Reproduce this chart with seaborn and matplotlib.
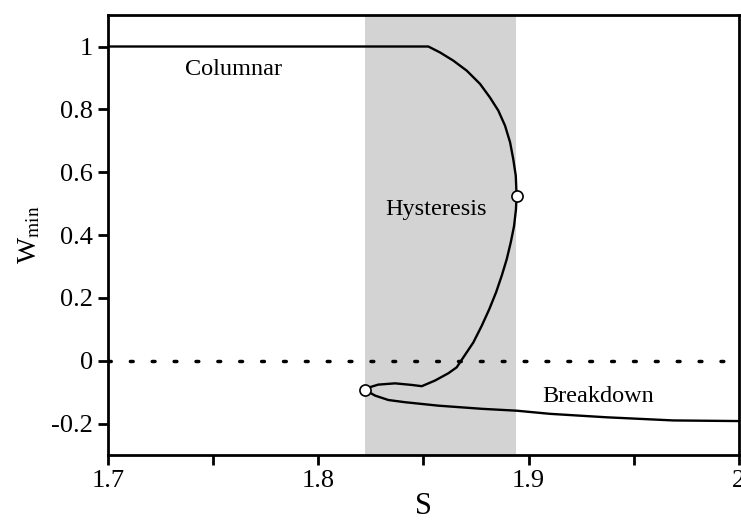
import numpy as np
import pandas as pd
import matplotlib
matplotlib.use("Agg")
import matplotlib.pyplot as plt
import seaborn as sns
from matplotlib.ticker import MultipleLocator

# solution branch, traced from columnar state through the fold to breakdown
s_vals = [1.700, 1.8523, 1.8579, 1.8642, 1.8706, 1.8769, 1.8816, 1.8856,
          1.8888, 1.8912, 1.8927, 1.8939, 1.8943,
          1.8940, 1.8931, 1.8915, 1.8896, 1.8872, 1.8845, 1.8813, 1.8777,
          1.8737, 1.8690, 1.8658, 1.8618, 1.8555, 1.8492, 1.8444, 1.8365,
          1.8285, 1.8246, 1.8222,
          1.8270, 1.8333, 1.8412, 1.8571, 1.8777, 1.8943, 1.9102, 1.9371,
          1.9688, 2.000]
w_vals = [1.000, 1.000, 0.981, 0.955, 0.923, 0.881, 0.838, 0.796,
          0.748, 0.695, 0.642, 0.589, 0.525,
          0.482, 0.429, 0.376, 0.323, 0.270, 0.217, 0.164, 0.111,
          0.058, 0.011, -0.021, -0.040, -0.063, -0.081, -0.077, -0.072,
          -0.076, -0.084, -0.093,
          -0.111, -0.125, -0.132, -0.143, -0.153, -0.159, -0.169, -0.180,
          -0.190, -0.192]

# fold points
fold_s = [1.8943, 1.8222]
fold_w = [0.525, -0.093]

# hysteresis window
hyst_lo, hyst_hi = 1.822, 1.894

labels = ["Columnar", "Hysteresis", "Breakdown"]
label_s = [1.7594, 1.856, 1.933]
label_w = [0.926, 0.481, -0.115]

x_ticks = [1.7, 1.8, 1.9, 2.0]
x_ticklabels = ["1.7", "1.8", "1.9", "2"]
y_ticks = [-0.2, 0, 0.2, 0.4, 0.6, 0.8, 1]
y_ticklabels = ["-0.2", "0", "0.2", "0.4", "0.6", "0.8", "1"]

sns.set_style("ticks")
plt.rcParams["font.family"] = ["Liberation Serif", "DejaVu Serif"]
plt.rcParams["mathtext.fontset"] = "stix"
plt.rcParams["text.color"] = "black"
plt.rcParams["axes.labelcolor"] = "black"

df = pd.DataFrame({"S": s_vals, "W": w_vals})

fig = plt.figure(figsize=(7.41, 5.20), dpi=100)
ax = fig.add_axes([0.146, 0.125, 0.851, 0.846])

ax.axvspan(hyst_lo, hyst_hi, color="#d3d3d3", lw=0, zorder=0)
ax.axhline(0, color="black", lw=2.5, ls=(0, (0.8, 5.5)), dash_capstyle="round", zorder=1)

sns.lineplot(data=df, x="S", y="W", sort=False, estimator=None, color="black",
             lw=1.7, ax=ax, zorder=2)
ax.plot(fold_s, fold_w, "o", ms=8, mfc="white", mec="black", mew=1.2, zorder=3)

for txt, sx, wy in zip(labels, label_s, label_w):
    ax.text(sx, wy, txt, ha="center", va="center", fontsize=17.5, color="black")

ax.set_xlim(1.7, 2.0)
ax.set_ylim(-0.3, 1.1)
ax.set_xticks(x_ticks)
ax.set_xticklabels(x_ticklabels)
ax.xaxis.set_minor_locator(MultipleLocator(0.05))
ax.set_yticks(y_ticks)
ax.set_yticklabels(y_ticklabels)

ax.tick_params(which="both", direction="out", width=2, labelsize=19, pad=4,
               color="black", labelcolor="black")
ax.tick_params(which="major", length=7)
ax.tick_params(which="minor", length=7)
for sp in ax.spines.values():
    sp.set_linewidth(2)
    sp.set_color("black")
    sp.set_visible(True)

ax.set_xlabel("S", fontsize=22, labelpad=0)
ax.set_ylabel(r"W$_{\mathrm{min}}$", fontsize=20, labelpad=6)

fig.savefig("out.png", dpi=100)
